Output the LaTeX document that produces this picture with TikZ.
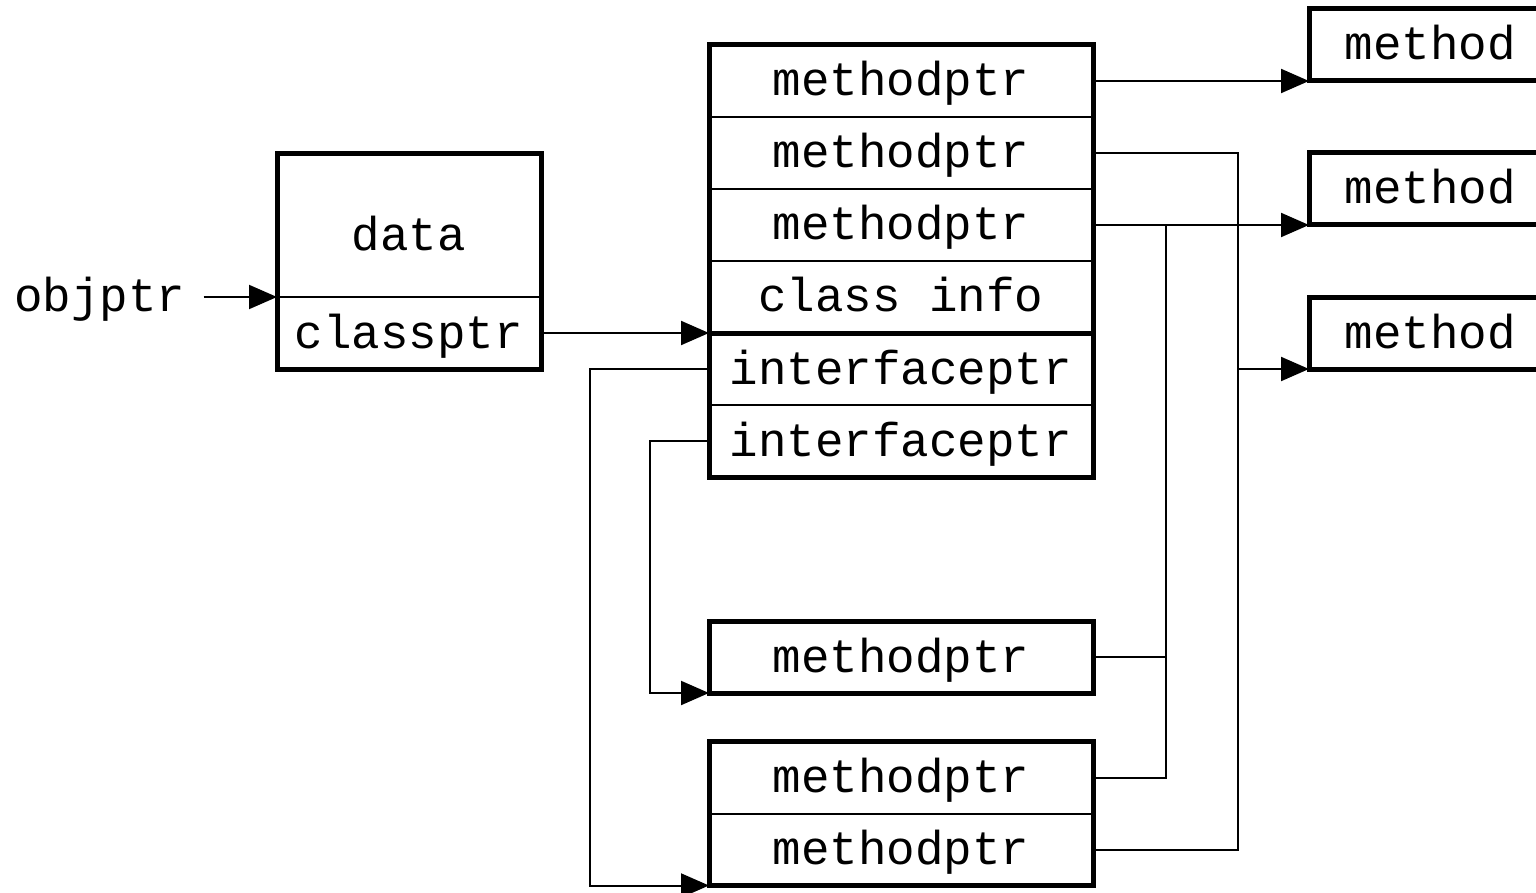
\documentclass[tikz,border=0pt]{standalone}
\usepackage{fontspec}
\setmonofont{Liberation Mono}
\usetikzlibrary{arrows.meta}
\newcommand\cellfont{\fontsize{47.5}{56}\selectfont\ttfamily}

\tikzset{
  cell/.style={draw, line width=2pt, inner sep=0pt, outer sep=0pt, font=\cellfont,
    text height=30pt, text depth=0pt, minimum height=72pt},
  rowcell/.style={cell, minimum width=384pt},
  methodbox/.style={cell, line width=5pt, minimum width=242pt},
  frame/.style={line width=5pt},
  wire/.style={line width=2pt},
  arr/.style={wire, -{Triangle[length=28pt,width=24pt]}},
}

\begin{document}
\begin{tikzpicture}[x=1pt,y=-1pt]
\clip (0,0) rectangle (1536,893);

% object record
\node[cell, minimum width=264pt, minimum height=143pt, text height=51pt] (dt) at (409,225.5) {data};
\node[cell, minimum width=264pt] (cp) at (409,333) {classptr};
\draw[frame] (dt.north west) rectangle (cp.south east);
\node[inner sep=0pt, outer sep=0pt, font=\cellfont, text height=30pt, text depth=0pt] (obj) at (100,297) {objptr};

% class record
\node[rowcell] (r1) at (901,81) {methodptr};
\node[rowcell] (r2) at (901,153) {methodptr};
\node[rowcell] (r3) at (901,225) {methodptr};
\node[rowcell] (r4) at (901,297) {class info};
\node[rowcell] (r5) at (901,369) {interfaceptr};
\node[rowcell] (r6) at (901,441) {interfaceptr};
\draw[frame] (r1.north west) rectangle (r6.south east);
\draw[frame] (r4.south west) -- ([xshift=3pt]r4.south east);

% interface tables
\node[rowcell, line width=5pt] (p) at (901,657) {methodptr};
\node[rowcell] (q1) at (901,777.5) {methodptr};
\node[rowcell] (q2) at (901,849.5) {methodptr};
\draw[frame] (q1.north west) rectangle (q2.south east);

% method bodies
\node[methodbox] (m1) at (1430,45) {method};
\node[methodbox] (m2) at (1430,189) {method};
\node[methodbox] (m3) at (1430,333) {method};

% pointers
\draw[arr, shorten <=18pt] (obj.east) -- (dt.south west);
\draw[arr] (cp.east) -- (cp.east -| r4.south west);
\draw[arr] (r1.east) -- (m1.south west);
\draw[arr] (r3.east) -- (m2.south west);
\draw[arr] (r2.east) -- ++(145,0) |- (m3.south west);
\draw[wire] (q2.east) -- ++(145,0) |- (r2.east);
\draw[wire] (p.east) -- ++(73,0) |- (r3.east);
\draw[wire] (q1.east) -- ++(73,0) |- (r3.east);
\draw[arr] (r5.west) -- ++(-119,0) |- (q2.south west);
\draw[arr] (r6.west) -- ++(-59,0) |- (p.south west);
\end{tikzpicture}
\end{document}
